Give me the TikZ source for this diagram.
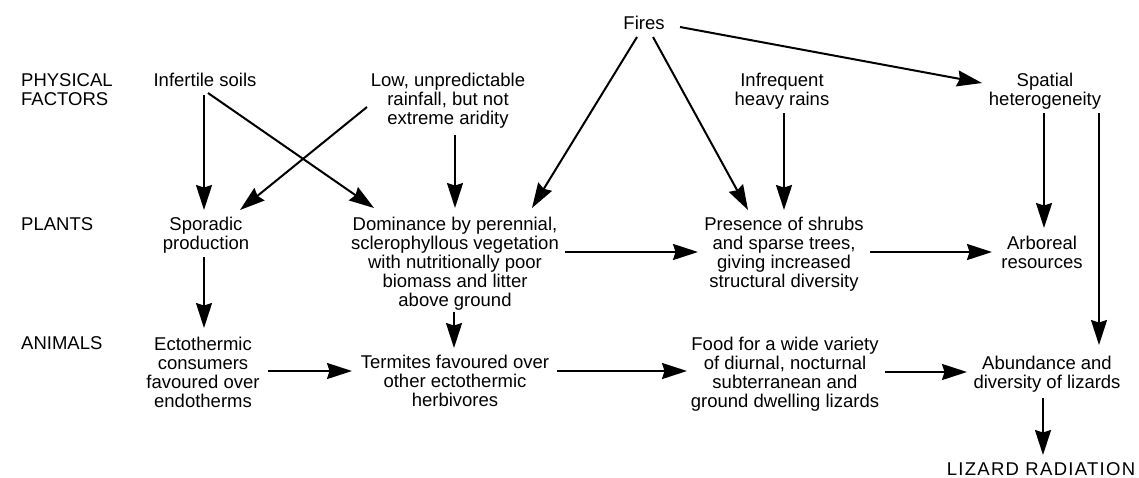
\documentclass[tikz,border=0pt]{standalone}
\usepackage{fontspec}
\setmainfont{Liberation Sans}
\usetikzlibrary{arrows.meta,calc}
\newcommand{\mlines}[1]{\begin{tabular}[t]{@{}c@{}}#1\end{tabular}}
\newcommand{\mleft}[1]{\begin{tabular}[t]{@{}l@{}}#1\end{tabular}}
\tikzset{
  lbl/.style={inner sep=0pt, font=\fontsize{18.5}{19}\selectfont, anchor=base},
  arr/.style={line width=2pt, -{Stealth[length=25pt,width=16pt,inset=2.5pt]}},
}
\begin{document}
\begin{tikzpicture}[x=1pt,y=-1pt]
\useasboundingbox (0,0) rectangle (1139,477);
% row labels
\node[lbl, anchor=base west] (phys) at (21,86) {\mleft{PHYSICAL\\FACTORS}};
\node[lbl, anchor=base west] (plantsl) at (21,230) {PLANTS};
\node[lbl, anchor=base west] (animl) at (21,349) {ANIMALS};
% nodes
\node[lbl] (fires) at (644,29) {Fires};
\node[lbl] (soil) at (205,86) {Infertile soils};
\node[lbl] (rain) at (448,86) {\mlines{Low, unpredictable\\rainfall, but not\\extreme aridity}};
\node[lbl] (infreq) at (782,86) {\mlines{Infrequent\\heavy rains}};
\node[lbl] (spatial) at (1045,86) {\mlines{Spatial\\heterogeneity}};
\node[lbl] (spor) at (206,230) {\mlines{Sporadic\\production}};
\node[lbl] (dom) at (455,230) {\mlines{Dominance by perennial,\\sclerophyllous vegetation\\with nutritionally poor\\biomass and litter\\above ground}};
\node[lbl] (pres) at (784,230) {\mlines{Presence of shrubs\\and sparse trees,\\giving increased\\structural diversity}};
\node[lbl] (arb) at (1042,249) {\mlines{Arboreal\\resources}};
\node[lbl] (ecto) at (203,350) {\mlines{Ectothermic\\consumers\\favoured over\\endotherms}};
\node[lbl] (term) at (455,368) {\mlines{Termites favoured over\\other ectothermic\\herbivores}};
\node[lbl] (food) at (785,350) {\mlines{Food for a wide variety\\of diurnal, nocturnal\\subterranean and\\ground dwelling lizards}};
\node[lbl] (abund) at (1047,369) {\mlines{Abundance and\\diversity of lizards}};
\node[lbl] (lizrad) at (1041,475) {\addfontfeature{LetterSpace=7}LIZARD RADIATION};
% connectors
\draw[arr] ($(soil.base)+(-1,9)$) -- ($(spor.base)+(-2,-20)$);
\draw[arr] ($(soil.base)+(3,7)$) -- ($(dom.base)+(-81,-22)$);
\draw[arr] ($(rain.base)+(-81,21)$) -- ($(spor.base)+(34,-20)$);
\draw[arr] ($(rain.base)+(7,49)$) -- ($(dom.base)+(0,-22)$);
\draw[arr] ($(fires.base)+(-7,8)$) -- ($(dom.base)+(77,-22)$);
\draw[arr] ($(fires.base)+(9,8)$) -- ($(pres.base)+(-36,-20)$);
\draw[arr] ($(fires.base)+(36,-2)$) -- ($(spatial.base)+(-63,-3)$);
\draw[arr] ($(infreq.base)+(2,27)$) -- ($(pres.base)+(0,-20)$);
\draw[arr] ($(spatial.base)+(-1,27)$) -- ($(arb.base)+(2,-21)$);
\draw[arr] ($(spatial.base)+(54,27)$) -- ($(abund.base)+(52,-24)$);
\draw[arr] ($(dom.base)+(110,22)$) -- ($(pres.base)+(-86,22)$);
\draw[arr] ($(pres.base)+(86,22)$) -- ($(arb.base)+(-50,3)$);
\draw[arr] ($(spor.base)+(-2,27)$) -- ($(ecto.base)+(1,-22)$);
\draw[arr] ($(dom.base)+(-1,82)$) -- ($(term.base)+(-1,-20)$);
\draw[arr] ($(ecto.base)+(65,21)$) -- ($(term.base)+(-103,3)$);
\draw[arr] ($(term.base)+(102,3)$) -- ($(food.base)+(-98,21)$);
\draw[arr] ($(food.base)+(100,22)$) -- ($(abund.base)+(-80,3)$);
\draw[arr] ($(abund.base)+(-4,29)$) -- ($(lizrad.base)+(2,-20)$);
\end{tikzpicture}
\end{document}
